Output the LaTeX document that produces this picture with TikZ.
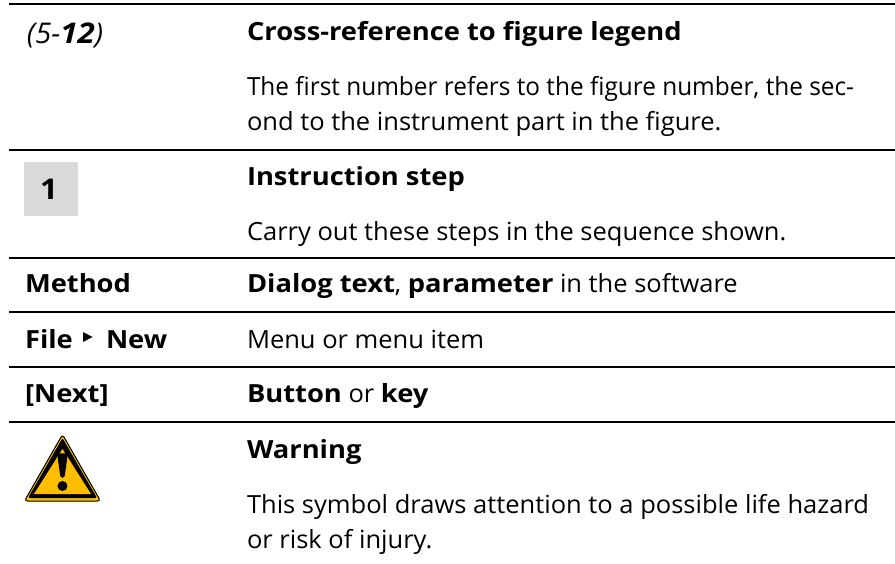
\documentclass[tikz,border=0pt]{standalone}
\usepackage{fontspec}
\setmainfont{Open Sans}[FakeStretch=1.02,BoldFeatures={FakeStretch=1.093},BoldItalicFeatures={FakeStretch=1.1}]
\newfontface\tightface{Open Sans}[FakeStretch=0.975]
\definecolor{warnY}{RGB}{255,190,0}
\begin{document}
\begin{tikzpicture}[x=1pt,y=-1pt,
  rulel/.style={draw=black,line width=1.3pt},
  txt/.style={anchor=base west,inner sep=0pt,outer sep=0pt,font=\fontsize{25}{25}\selectfont},
  bigtxt/.style={txt,font=\fontsize{28.5}{28.5}\selectfont}]
\useasboundingbox (0,0) rectangle (895,563);
\fill[white] (0,0) rectangle (895,563);
\foreach \y/\n in {4/a,150/b,258/c,312/d,367/e,422/f}{
  \coordinate (l\n) at (9,\y); \coordinate (r\n) at (895,\y);
  \draw[rulel] (l\n) -- (r\n);
}
\node[bigtxt] (t1) at (27,43) {\textit{(5-\textbf{12})}};
\node[txt] (h1) at (247,40) {\textbf{Cross-reference to figure legend}};
\node[txt] (b1) at (247,95) {\tightface The first number refers to the figure number, the sec-};
\node[txt] (b2) at (247,130) {ond to the instrument part in the figure.};
\node[fill=black!15,minimum width=54pt,minimum height=54pt,inner sep=0pt] (box) at (51,189) {};
\node[bigtxt] (n1) at (40,199) {\textbf{1}};
\node[txt] (h2) at (247,185) {\textbf{Instruction step}};
\node[txt] (b3) at (247,240) {Carry out these steps in the sequence shown.};
\node[txt] (m) at (25,292) {\textbf{Method}};
\node[txt] (m2) at (247,292) {\textbf{Dialog text}, \textbf{parameter} in the software};
\node[txt] (f) at (25,348) {\textbf{File}};
\fill (83,332) -- (92.5,337) -- (83,342) -- cycle;
\node[txt] (f2) at (106,348) {\textbf{New}};
\node[txt] (f3) at (247,348) {Menu or menu item};
\node[txt] (n) at (25,402) {\textbf{[Next]}};
\node[txt] (n2) at (247,402) {\textbf{Button} or \textbf{key}};
\node[txt] (h3) at (247,458) {\textbf{Warning}};
\node[txt] (b4) at (247,513) {This symbol draws attention to a possible life hazard};
\node[txt] (b5) at (247,548) {or risk of injury.};
% warning sign
\draw[black,line width=1pt,fill=warnY,line join=round,rounded corners=3pt] (62.5,434.5) -- (100.5,501) -- (24.5,501) -- cycle;
\fill[black,rounded corners=2pt] (62.5,438) -- (97,498) -- (28,498) -- cycle;
\fill[warnY] (62.5,449) -- (91,494) -- (34,494) -- cycle;
\fill[black,rounded corners=2pt] (57.5,456) .. controls (58,453) and (67,453) .. (67.5,456) -- (64.5,478) -- (60.5,478) -- cycle;
\fill[black] (62.5,486) circle (5pt);
\end{tikzpicture}
\end{document}
